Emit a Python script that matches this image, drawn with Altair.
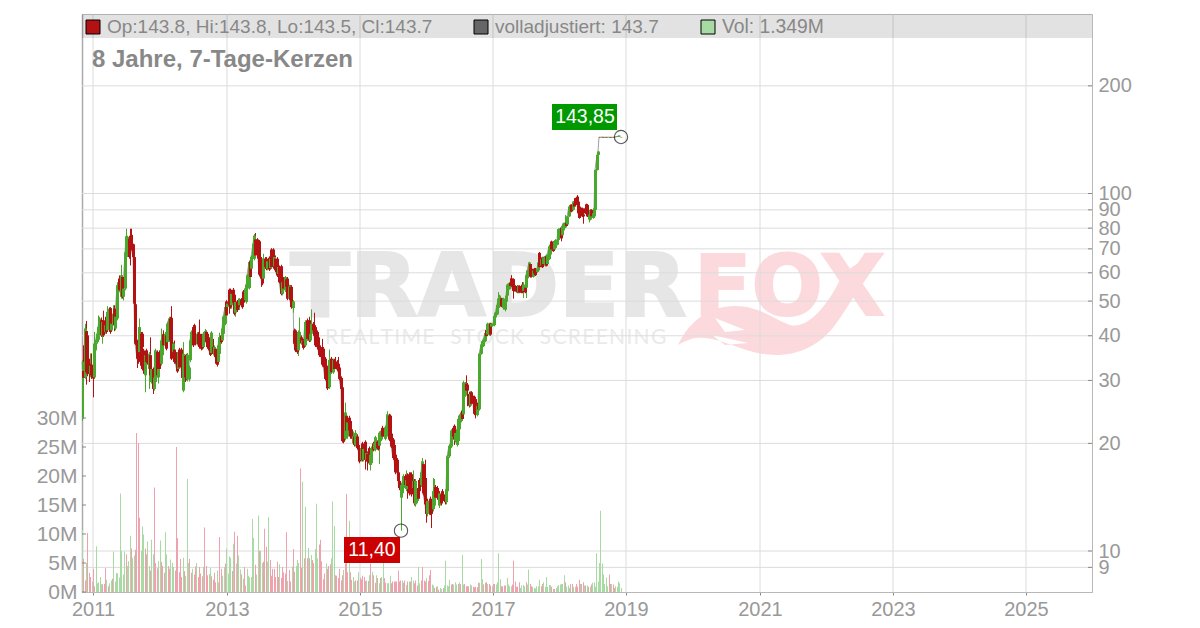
import altair as alt
import pandas as pd

# ---- weekly candles, prices ----
opens = [
23.4,31.9,30.6,41.2,40.1,33.4,31.3,33.2,32.3,30.6,
36.4,38.4,40.1,42.3,44.2,40.1,44.2,41,45.2,41.4,
42.2,47.8,41.4,43.2,47.6,41.9,44.7,53,57.8,51.4,
58.4,51.4,54.2,67.1,67.1,74.7,76.2,76.6,72.1,66.4,
49,38.4,36.4,36,40.5,40.5,36.4,31,36.4,34.9,
32.3,35.3,29.7,32.3,28.4,29.7,36,30.6,36,33.4,
35.3,40.3,37.6,40.1,38.4,38.8,44.7,44.9,36,36.6,
36,35.6,32.3,36.6,36.6,35.3,28.1,35.1,35.3,30.2,
30.2,34.2,38.8,42.3,42.8,38.8,37.9,40.5,40.5,40.1,
38.8,37.2,39.2,41,40.5,39.2,37.2,35.8,37.2,35.3,
36.8,36,33.8,35.6,40.1,38.8,40.5,43.2,49.9,48.1,
53.8,53.8,48.7,53.8,52.1,46.4,49.9,50.3,48.7,50.6,
50.6,53.2,50.3,49.7,54.2,54.4,64.6,61.6,66.4,65.7,
74.4,74.4,73.5,73.5,65.7,59.6,57.8,65.7,65.7,61.6,
66.1,61.9,69.7,69.7,62.6,65.7,65.7,59.6,62.3,62.6,
52.4,57.8,53.6,57.5,57.8,51,54.8,54.8,47.8,41.4,
41.4,38.4,36.4,38,39.6,38,38.8,37.6,38.8,44.2,
44.2,38.8,40.5,43.2,42.8,42.3,41,38.8,37.6,36.8,
36.4,36.8,34.5,33,31.1,28.7,31.3,34.5,31.6,34.2,
33.9,33.8,33.4,32.6,30.5,28.7,23.9,20.6,23.9,20.9,
23.6,23.1,21.9,20,20.9,19.8,20.9,19.8,19.4,18,
20,18,20.2,18,18.7,19.4,17.4,17.6,20,19.3,
19.2,20.2,20.2,19.7,20.5,22.1,21.9,20.6,20.9,22.1,
23.9,23.9,21.3,20.5,19.8,18.6,18,16.6,15.7,14.1,
14.5,15,16.2,14.9,16.3,16.4,16.4,16.4,15,15.7,
13.5,13.8,15,15.8,15.3,16,17.5,16,14,12.7,
12.8,14,13.1,13.1,13.4,15.1,15,14.7,13.4,14.4,
14.7,14.4,14.3,13.7,14.7,18.4,19.4,19.6,22.1,22.4,
20.3,19.8,20.3,21.9,23.1,24.7,24.1,27.2,29.4,29.2,
27.5,25.5,27.8,27,27,26.6,24,26,24.9,35.6,
37.4,37.4,38.6,41.5,40.3,40.3,43.2,42.4,42.8,42.8,
45,45.9,47.8,49.3,50.8,50.6,47.8,47.3,49.8,51.8,
54,56.2,57.9,57.6,55.1,55.1,55.1,52.9,55.1,55.1,
55.6,53.4,54.5,54.5,57.9,59.7,63.5,61.6,58.5,61.6,
61.6,60.3,60.9,68.2,62.8,66.2,63.5,62.8,66.8,63.5,
65.5,67.5,73.4,73.2,69.7,70.4,71.9,74.1,75.6,80.3,
76.4,78.8,80.3,82.8,81.9,86.3,90,92.9,90,93.9,
96.9,98,94.9,91.9,90.9,90.9,87.2,90.9,93.3,92.9,
84.5,84.5,90,85.4,86.3,90,116.3,128.2,
143.8,143.5,143.7,143.9,143.6,143.8,143.6,143.7,143.8,143.5,143.7,143.6,143.8,144.0,144.3,144.8,143.8]

closes = [
33.8,30.5,41.9,31.6,31.3,31.3,33,31,30.4,38,
38.4,40.5,42.3,44.7,40.1,43.7,40.1,42.8,41,46.6,
47.6,41,43.2,46.1,42.8,45.2,55.4,56,53.6,59,
51.4,54.2,68.5,75.9,75.7,66.4,70,70,66.4,49.2,
38,34.5,33.8,42.3,33,37.2,32,35.3,33.8,33.6,
35.6,31,32.3,28.4,30.6,36.4,31,32.3,32.3,38.8,
40.1,37.6,40.5,36.8,43.2,44.7,38.8,34.5,38,33.8,
33.8,31.8,36,32.6,33,30.5,35.6,30.6,30.3,35.4,
32.6,38.8,41,37.6,38.8,37.9,40.5,37.9,37.2,36.8,
37,40.5,41.2,38.4,37.2,36.4,35.4,40.8,35.6,37.2,
34.9,33.2,37.6,39.6,38.4,41.9,45.2,48.1,45.6,49.2,
48.7,48.1,52.4,49.5,46.1,49.7,47.2,48.1,50.6,48.7,
48.1,49.5,54.2,54.8,59,64.3,58.4,66.4,72.4,76.2,
67.1,69.3,65.7,59.3,57.8,56,65.7,62.3,61.6,64.6,
61.3,65.7,62.3,62.3,66.4,61,59,62.3,56.5,52.4,
56.5,54.2,58.4,54.8,50.8,55,50.3,48.1,49.9,38,
36.4,36,41,41,38.2,38.8,37,43.7,41.4,39.2,
38.8,40.5,43.2,41.4,40,37.6,37.2,36.6,35.3,34.9,
33.2,33,30.3,30.2,28.5,34.2,34.2,31.6,34.2,32.3,
32.6,32.2,32,30.3,28.4,20.3,20.2,24.4,21.7,22.9,
21.7,20.9,20.9,20.9,19.8,21.4,19.4,19.4,17.8,19.4,
18,19.3,18,18.8,17.8,17.6,18.6,19.4,19.2,20,
20.8,19.4,19.3,21.4,21.7,20.9,21.1,22.2,22.4,24.1,
20.5,20.5,19.6,18.2,18,16.6,16.6,15.7,15,15.3,
15.5,16.2,15.3,15.8,15.2,14.5,15.2,14.4,15.7,13.6,
15.7,14.7,14,14.7,16.6,17.8,14.5,13.5,12.7,13.8,
13.8,12.7,12.7,14.7,14.7,14.1,14.1,14,14.5,13.6,
13.8,14,13.7,14.9,18.4,19.7,19.8,21.7,20.9,20.5,
21.4,21.9,23.4,23.9,24.4,23.4,29.6,29.5,28.1,28.1,
25.5,27.5,25.8,26,24.2,24,25.5,24.9,35.6,37.8,
38.6,39,40.7,39.9,43.2,43.2,40.3,43.2,43.2,45.4,
46.4,48.8,50.8,51.8,48.3,48.3,50.8,50.3,51.8,55.6,
56.2,55.1,55.1,53.4,53.4,53.4,52.9,55.1,52.9,52.9,
52.9,55.6,52.9,59.1,60.9,64.1,58.5,58.5,60.9,59.7,
59.1,61.6,64.1,62.2,65.5,62.2,66.2,66.8,62.8,67.5,
71.1,71.9,69.7,69,73.4,74.1,74.1,79.5,79.5,74.9,
81.1,82.4,82.8,81.1,86.3,91.9,92.9,89,94.9,91.9,
92.9,93.9,88.1,85.4,87.2,86.3,86.3,88.1,88.1,86.3,
87.2,90,86.3,88.1,90.9,116.3,128.2,131,
143.7,143.7,143.9,143.6,143.8,143.6,143.7,143.8,143.5,143.7,143.6,143.8,144,144.3,144.8,145,143.7]

highs = [
34.2,37.6,43.2,44,41.2,34.5,35.7,35.7,32.8,41,
38.9,41,45.6,45.2,45,44.2,47,44.7,45.6,48.4,
48.1,48.1,43.7,48.7,48.7,45.6,56.5,56.5,59,63.2,
59,54.8,69.3,79.7,76.2,75.4,79.7,79.7,72.4,67.1,
49.7,39,36.8,44.7,41,41,36.8,35.6,36.8,35.3,
36,39.6,32.6,32.6,31,36.8,36.4,32.6,36.4,41.9,
40.5,41.4,41,40.5,43.7,45.2,45.2,48.4,38.4,38.8,
36.4,36,36.4,37,37,35.6,38.4,35.4,35.6,35.8,
33,40.8,41.4,42.8,43.2,39.2,41,41,44.4,40.5,
39.2,41,41.8,41.4,41,39.6,37.6,41.2,39.2,37.6,
37.2,36.4,38,40.8,40.5,42.8,45.6,48.7,50.3,49.7,
54.2,54.2,53,54.4,52.6,50.3,50.3,50.8,51,51,
51,53.7,55.6,55.4,59.6,65,65.3,67.1,73.2,77,
77.5,75,74.1,74.1,66.4,60.3,67.8,66.4,66.4,65.2,
66.7,66.3,70.3,70.3,67.1,67.1,66.4,62.9,62.9,63.2,
57.2,58.4,58.8,58,58.4,55.6,55.4,55.4,50.3,41.9,
41.7,38.8,41.4,45,40.1,39.2,39.2,44.2,43.9,44.7,
45.2,41,47.4,43.7,46.4,42.8,41.4,39.2,39.6,37.2,
39.2,37.2,34.9,33.4,31.4,36.6,34.5,34.9,34.5,34.5,
34.9,34.2,34.9,33,30.8,29,24.1,26,24.2,23.2,
23.9,23.4,22.1,21.6,21.2,21.8,21.2,20,19.6,19.6,
20.2,19.5,20.4,19,19,19.6,18.8,19.6,20.2,20.2,
21,20.4,20.4,21.6,21.9,22.4,22.1,22.4,22.6,24.6,
24.2,24.1,21.5,20.7,20,18.8,18.2,16.8,15.9,15.5,
15.7,16.4,16.4,16.8,16.5,16.6,16.6,16.6,16.8,15.9,
15.9,14.9,15.2,16,16.8,18.2,17.7,18,14.2,14,
14,14.2,13.3,16,15.9,15.3,15.2,14.9,14.7,14.6,
14.9,14.6,14.5,15.1,18.6,19.9,20,21.9,22.3,22.6,
21.6,22.1,23.6,24.1,24.6,24.9,29.9,29.7,31,29.5,
27.9,28,28,27.2,27.2,26.8,25.8,26.2,35.9,38,
38.8,39.3,41,41.8,43.5,43.5,43.5,43.5,43.4,45.7,
46.7,49.1,53,52.1,51.1,50.9,51.1,50.6,52.1,55.9,
56.5,56.5,59.1,57.9,55.4,55.4,55.4,55.4,55.4,55.4,
56.5,56.5,54.8,59.4,61.2,64.4,63.8,61.9,61.2,61.9,
61.9,61.9,64.4,68.6,65.8,66.5,66.5,67.1,67.1,67.8,
71.4,72.2,73.8,73.5,73.8,74.5,74.5,79.9,79.9,80.7,
81.5,82.8,87,83.2,86.7,92.3,93.3,93.3,95.3,96.9,
97.3,99,95.3,92.3,91.3,91.3,87.6,91.3,93.7,93.3,
87.6,90.4,90.4,88.5,91.3,116.8,128.8,131.5,
143.9,143.8,144,143.9,143.9,143.9,143.8,143.9,143.9,143.8,143.8,143.9,144.1,144.4,144.9,145.2,143.85]

lows = [
23.1,29.7,30.3,29.2,30.8,29.7,30.6,30.3,26.9,30.3,
36,38,39.7,39,39.7,38,39.7,40.5,40.5,41,
41.9,40.5,41,42.8,41.2,41.4,44.2,52.5,53,50.8,
50.8,50.2,53.6,66.4,66.4,65.7,62.9,69.3,65.7,48.7,
37.6,32.5,33.4,35.6,32.3,36.8,31.3,27.8,33.4,33.2,
28.4,30.6,29.4,27.5,28.1,29.4,30.6,29.4,32,33,
34.9,37.2,37.2,36.4,38,38.4,38.4,34.2,35.6,33.4,
33.4,31.5,32,32.3,32.6,30.2,27.8,29.7,30,29.8,
29.8,33.8,38.4,37.2,38.4,37.6,37.6,37.6,36.8,36.4,
36.6,36.8,38.8,38,36.8,36,35.1,35.4,35.3,34.9,
33.4,32.8,33.4,35.3,38,38.4,40.1,42.8,45.2,46.1,
46.1,47.6,47.6,47.6,45.6,45.2,46.6,47.6,47.2,48.1,
47.6,48.9,49.7,49.2,53.6,53.9,57.8,61,65.7,65,
66.4,68.5,65,58.6,54.8,55.4,57.2,61.6,61,61,
60.7,61.3,61.6,61.6,62,60.3,58.4,59,56,51.9,
51.9,53.6,53,54.2,50.3,50.6,48.7,47.6,46.4,37.7,
36,35.6,35.1,37.6,37.8,37.6,36.6,37.2,38.4,38.8,
38.4,38.4,40.1,41,39.5,37.2,36.8,36.2,34.9,34.5,
32.8,32.6,30,29.9,28.2,28.4,31,31.3,31.3,32,
32.3,31.8,31.6,30,28.2,20.1,20,20.4,21.4,20.6,
21.4,20.6,20.6,19.8,19.6,19.6,19.2,19.2,17.6,17.8,
17.8,17.8,16.9,17.8,16.8,17.4,16.8,17.4,19,19.1,
19,19.2,19.1,17.5,20.3,20.7,20.9,20.4,20.7,21.9,
20.3,20.3,19.4,18,17.8,16.4,16.4,15.5,14.8,11.4,
14.3,14.8,15.1,14.7,14,14.3,15,14.2,14.8,13.4,
13.3,13.6,13.8,14.5,15.1,15.8,14.3,13.3,12,12.5,
12.6,12.6,11.6,12.9,13.2,13.9,13.9,13.8,13.2,13.4,
13.6,13.8,13.5,13.5,14.5,18.2,19.2,19.4,20.7,19.8,
20.1,19.6,19.8,21.7,22.9,23.2,23.9,27,27.9,25.4,
25.2,25.3,25.6,25.4,24,23.5,23.8,24.7,24.7,35.4,
37.2,37.2,38.4,39.7,40,40,40,42.2,42.6,42.5,
44.8,45.7,47.6,49,48.1,48.1,47.3,46.8,49.5,51.6,
53.8,54.8,54.8,50.8,53.2,53.2,52.6,52.6,52.6,52.6,
52.6,51,52.6,51,57.6,59.4,58.2,58.2,58.2,59.4,
58.8,60,60.6,61.9,62.5,61.9,63.2,62.5,62.5,63.2,
65.2,67.2,69.4,68.7,69.4,70.1,71.6,73.8,75.3,73.5,
76,78.5,80,80.8,81.6,85.9,89.6,88.6,89.6,91.5,
92.5,93.5,87.7,85,86.8,85.9,82.3,87.7,87.7,85.9,
83,84.1,85.9,85,85.9,89.6,116,127.8,
143.5,143.5,143.6,143.5,143.5,143.5,143.5,143.6,143.4,143.5,143.5,143.6,143.7,144,144.2,144.5,143.5]

# volume in millions; a negative sign marks a falling (red) week
volumes_signed = [
10.7,-5.7,-2,5,-10.2,-3.3,-2.6,1.8,-4,-1,7.9,1.5,1.7,2.6,1.4,-1.3,-1.4,-4.1,2.1,-1,1.5,2,-2.3,7,1.8,3.3,3.2,2.5,
17,7.1,3,7,-6.5,4.5,5.3,9.7,-7.5,5.9,6.3,-7.3,-27.4,-25.7,-12.8,7.1,11.3,9.9,-7.5,-6.5,8.7,4.5,-3.7,9,6.5,-18,
-5,-4.1,5.3,8.9,-5.2,-4.5,-3.3,10.3,6.5,-4.5,-4,5.6,5,4.3,-3.7,-25,-9.3,-3.4,-5.7,-2.6,5.9,-3.6,2.8,19.5,5,-5.7,
-3.3,4,-3,-4.4,5,-2.6,-4.3,-3.2,-2.7,4.3,-11.1,-4.5,-2.9,3.1,4.2,-2.7,-2.1,-3.3,-1.7,3.7,1.7,-9.5,-4,2.8,4.3,
-4.9,7.5,3.2,6.1,5.9,-3.6,8.3,-10.4,4.9,-9.7,6.3,3.9,-3,2.3,-4.3,-1.1,4,2.8,2.5,2.6,12.6,9.3,-4.7,3,13.2,-7.1,
7.1,5,-5.2,-10.9,-7.8,5.2,12.9,-5.5,-2.8,-4,-4,-2.6,-5.2,-2.6,4.8,-2.4,-4.3,-3.4,-3.2,-10.3,1.9,-3.8,-1.8,4.4,
-7.4,-3.5,4.5,5.5,5,-21.3,-4.2,19,-5.8,14.7,-5.8,7.6,-5.8,6.4,-5.5,-5,7.4,15.2,5.8,-8.2,-9,-5.3,-2.2,-3.2,4.9,
-4,-4.5,-4.8,5.8,15.6,11.4,-2.9,-2.8,-2.4,-4,-2,-2.9,3.8,-4.9,-16.9,-3.4,12.3,-3.4,-2.1,2.6,1.8,-2,-2,3.4,-2.5,
-2.2,-2.8,-2.6,-1.9,2,-1.9,2.9,-4.9,3.5,-2.9,-1.6,2.9,-2.4,1.5,-2.4,2.6,5.1,-2.4,-1.6,1.5,1.5,2.8,-1.5,-1.8,-1.8,
-1.8,-1.8,-3.7,-1.8,-2,2,-1.6,-2,1.2,-1.8,1.8,-1.8,2.6,2,-1.5,-2,-1.1,4.3,1.5,-2,-4.3,-2,-1.8,2.4,-1.9,-2.9,-3.8,
1.3,1.1,-.7,-.9,1,-.4,.7,.5,-.7,1.1,5.4,1.1,1,2.1,-1.3,-1.4,1.3,1.7,1.3,-1.4,1.7,-1.4,6.4,1.3,-1.4,-1,-1,-1,1.3,
1.1,-.9,-.8,-.9,-.8,-1.6,1.6,5.7,2.2,-1.3,-1.6,-1.7,1.4,-1.4,-1.1,1,-1.4,-1.4,1.3,1.7,6.7,2.2,-1,-1,-1.1,-1.1,2.4,
1.3,1,1,-1.3,-5.4,-1.8,-.9,-.9,-1.7,.7,1.1,1.2,1,-1.7,1.3,3.9,-1.4,-1,.9,.7,.6,1,1,2.1,-1,-1.4,1.7,.9,2.6,.9,1.2,
1.2,-.9,-.5,-.5,.7,1,1.2,1.3,1.4,1.4,2.9,-1.7,.9,1.1,.7,-1.4,-1.4,.9,.9,-1.4,-.9,-2.1,1.4,-1.4,-1.7,1.1,-1.1,1.1,
-.9,.9,-1.3,1.6,1.7,.9,6.7,1.8,5,14,4.9,3,1.4,2.5,1,-3,-1.4,1.4,-1.3,-.7,1,.9,1.8,1.5,.7]

price_ticks = [200, 100, 90, 80, 70, 60, 50, 40, 30, 20, 10, 9]
volume_ticks = [0, 5, 10, 15, 20, 25, 30]
year_ticks = [2011, 2013, 2015, 2017, 2019, 2021, 2023, 2025]

FONT = "Liberation Sans"
GREY = "#999999"
GRID = "#dcdcdc"
UP, DOWN = "#4aa82f", "#b21212"
MARK_GREY, MARK_PINK = "#e6e6e6", "#fcd9dd"

candles = pd.DataFrame({
    "date": pd.date_range("2010-10-30", "2018-12-02", periods=len(closes)),
    "open": opens, "high": highs, "low": lows, "close": closes})
candles["dir"] = ["up" if c >= o else "down" for o, c in zip(opens, closes)]

vols = pd.DataFrame({
    "date": pd.date_range("2010-10-30", "2018-12-02", periods=len(volumes_signed)),
    "vol": [abs(v) for v in volumes_signed],
    "dir": ["up" if v > 0 else "down" for v in volumes_signed]})

extremes = pd.DataFrame({
    "date": [candles.date.iloc[candles.low.idxmin()], candles.date.iloc[-1]],
    "price": [11.40, 143.85]})

x_scale = alt.Scale(domain=["2010-10-30", "2025-12-29"], nice=False, round=True, padding=0)
x_axis = alt.Axis(
    values=[alt.DateTime(year=y, month=1, date=1) for y in year_ticks], format="%Y",
    labelFont=FONT, labelFontSize=20, labelColor=GREY, labelPadding=4, labelFlush=False,
    grid=False, domainColor="#b8b8b8", tickColor="#888888", tickSize=3, title=None)
x_enc = alt.X("date:T", scale=x_scale, axis=x_axis)

price_scale = alt.Scale(type="log", domain=[7.68, 317.7], nice=False)
vol_scale = alt.Scale(domain=[0, 99.66], nice=False)
price_axis = alt.Axis(
    orient="right", values=price_ticks, labelFont=FONT, labelFontSize=20, labelColor=GREY,
    labelPadding=6, labelBound=False, labelFlush=False, labelOverlap=False, format="d", tickSize=0,
    grid=False, domainColor="#b8b8b8", title=None)
vol_axis = alt.Axis(
    orient="left", values=volume_ticks, labelExpr="datum.value + 'M'", labelFont=FONT,
    labelFontSize=21, labelColor=GREY, labelPadding=5, labelFlush=False, labelBound=False,
    labelOverlap=False, tickSize=0, grid=False, domainColor="#aaaaaa", domainWidth=1.5, title=None)

one = alt.Data(values=[{"a": 1}])


def text(s, x, y, size=19, color="#888888", weight="normal", align="left", font=FONT, heavy=0):
    kw = {"stroke": color, "strokeWidth": heavy} if heavy else {}
    return alt.Chart(one).mark_text(
        text=s, font=font, fontSize=size, color=color, fontWeight=weight, align=align,
        baseline="middle", **kw).encode(x=alt.value(x), y=alt.value(y))


def box(x, x2, y, y2, fill, stroke=None, opacity=1.0):
    kw = {"stroke": stroke, "strokeWidth": 1} if stroke else {}
    return alt.Chart(one).mark_rect(fill=fill, opacity=opacity, **kw).encode(
        x=alt.value(x), x2=alt.value(x2), y=alt.value(y), y2=alt.value(y2))


FOX_TAIL = (
    "M-2.04,.9 C-1.8,.4 -1.4,.12 -.9,.12 C-.4,.12 -.1,.4 .2,.5 "
    "C.6,.6 1,0 1.2,-.4 C1.4,-.7 1.7,-.84 2.1,-.94 "
    "C1.7,-.5 1.4,.1 1.1,.5 C.8,.9 .4,1.1 -.1,1.1 "
    "C-.7,1.1 -1.2,.7 -1.7,.76 C-1.8,.78 -1.94,.84 -2.04,.9 Z "
    "M-1.3,.36 L-1.1,.64 L-.7,.6 Z M-1.36,.7 L-1.1,.9 L-.64,.86 Z")

watermark = [
    text("TRADER", 208, 275.5, size=88, color=MARK_GREY, weight="bold", font="DejaVu Sans", heavy=2),
    text("FOX", 612, 275.5, size=84, color=MARK_PINK, weight="bold", font="DejaVu Sans", heavy=2),
    text("R\u200aE\u200aA\u200aL\u200aT\u200aI\u200aM\u200aE\u2003S\u200aT\u200aO\u200aC\u200aK\u2003"
         "S\u200aC\u200aR\u200aE\u200aE\u200aN\u200aI\u200aN\u200aG",
         243, 324, size=21, color="#eaeaea", font="Lato"),
    alt.Chart(one).mark_point(shape=FOX_TAIL, filled=True, fill=MARK_PINK, opacity=1, strokeWidth=0).encode(
        x=alt.value(698), y=alt.value(286), size=alt.value(10000)),
]

# grid lines go over the watermark and under the candles
price_grid = alt.Chart(pd.DataFrame({"p": price_ticks})).mark_rule(color=GRID).encode(
    y=alt.Y("p:Q", scale=price_scale, axis=None))
year_grid = alt.Chart(pd.DataFrame({"date": pd.to_datetime([f"{y}-01-01" for y in year_ticks])})).mark_rule(
    color=GRID).encode(x=x_enc)

band = box(0, 1010, 0, 24, "#000000", opacity=0.115)

volume = alt.Chart(vols).mark_bar(size=1, xOffset=0.5, clip=True).encode(
    x=x_enc,
    y=alt.Y("vol:Q", scale=vol_scale, axis=vol_axis),
    color=alt.Color("dir:N", legend=None,
                    scale=alt.Scale(domain=["up", "down"], range=["#a8dba4", "#efa2ad"])))

close_line = alt.Chart(candles).mark_line(color="#a0a0a0", strokeWidth=1).encode(
    x=x_enc, y=alt.Y("close:Q", scale=price_scale, axis=None))

candle_color = alt.Color("dir:N", legend=None,
                         scale=alt.Scale(domain=["up", "down"], range=[UP, DOWN]))
wicks = alt.Chart(candles).mark_rule(strokeWidth=1, xOffset=0.5, clip=True).encode(
    x=x_enc, y=alt.Y("low:Q", scale=price_scale, axis=None), y2="high:Q", color=candle_color)
bodies = alt.Chart(candles).mark_bar(size=3, xOffset=0.5, clip=True).encode(
    x=x_enc, y=alt.Y("open:Q", scale=price_scale, axis=price_axis), y2="close:Q", color=candle_color)

right_ticks = alt.Chart(pd.DataFrame({"p": price_ticks})).mark_rule(color="#888888").encode(
    x=alt.value(1006), x2=alt.value(1010), y=alt.Y("p:Q", scale=price_scale, axis=None))
left_ticks = alt.Chart(pd.DataFrame({"v": volume_ticks})).mark_rule(color="#888888").encode(
    x=alt.value(0), x2=alt.value(4), y=alt.Y("v:Q", scale=vol_scale, axis=None))

rings = alt.Chart(extremes).mark_point(size=177, color="#111111", filled=False, strokeWidth=1.1).encode(
    x=x_enc, y=alt.Y("price:Q", scale=price_scale, axis=None))

annotations = [
    box(470, 535, 90, 116, "#009900"),
    text("143,85", 503, 103, size=19.5, color="#ffffff", align="center"),
    box(262, 318, 523, 549, "#cc0000"),
    text("11,40", 290, 536, size=19.5, color="#ffffff", align="center"),
    box(4, 18, 6, 20, DOWN, stroke="#000000"),
    text("Op:143.8, Hi:143.8, Lo:143.5, Cl:143.7", 25, 13),
    box(392, 406, 6, 20, "#666666", stroke="#000000"),
    text("volladjustiert: 143.7", 413, 13),
    box(619, 633, 6, 20, "#a8dba4", stroke="#000000"),
    text("Vol: 1.349M", 640, 13, size=19.3),
    text("8 Jahre, 7-Tage-Kerzen", 10, 46, size=24, weight="bold"),
]

chart = alt.layer(
    *watermark, price_grid, year_grid, band, volume, close_line, wicks, bodies,
    right_ticks, left_ticks, rings, *annotations
).resolve_scale(y="independent", color="independent").properties(
    width=1010, height=578,
    padding={"left": 74, "top": 6, "right": 100, "bottom": 28},
    autosize=alt.AutoSizeParams(type="none"),
    background="white",
).configure_view(stroke="#c8c8c8")

chart.save("out.html", embed_options={"renderer": "svg", "actions": False})
